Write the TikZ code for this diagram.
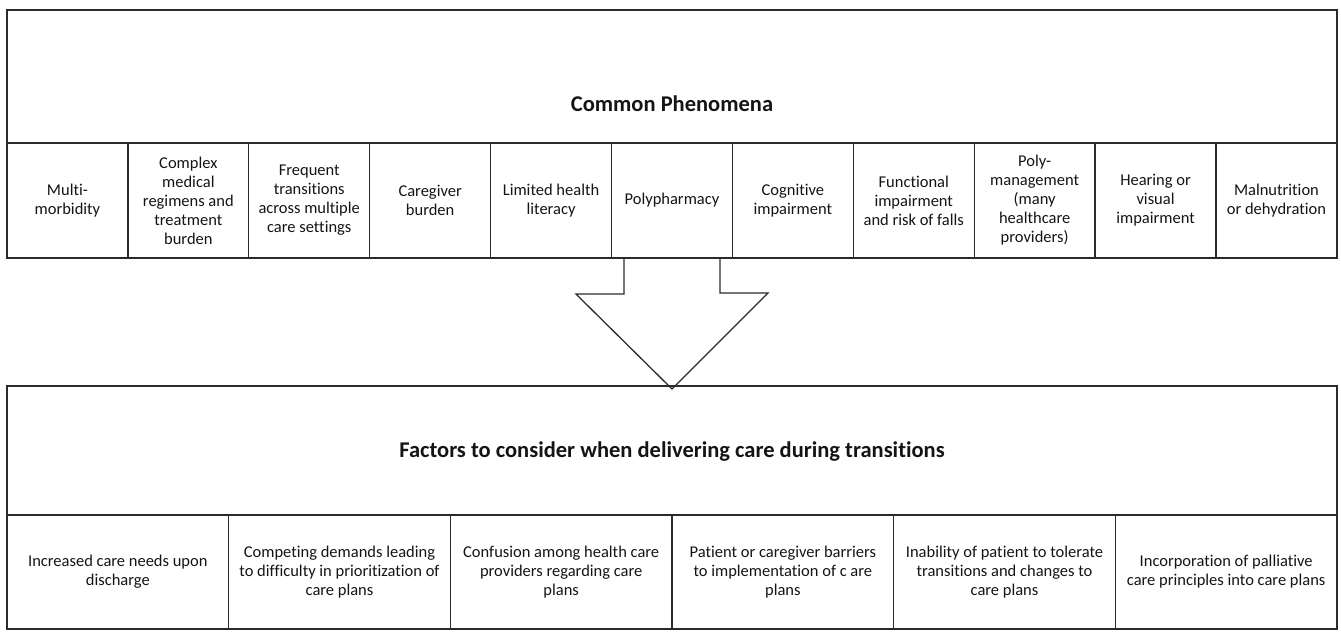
\documentclass[tikz,border=0pt]{standalone}
\usepackage{fontspec}
\setmainfont{Carlito}[Ligatures=NoCommon]
\usepackage{tikz}
\usetikzlibrary{positioning, calc}
\usepackage{xcolor}
\definecolor{linegray}{rgb}{0.17, 0.17, 0.17}
\definecolor{textgray}{rgb}{0.08, 0.08, 0.08}
\newcommand{\cellfont}{\fontsize{16.5}{19}\selectfont}
\newcommand{\headfont}{\fontsize{22.5}{26}\selectfont\bfseries}

\begin{document}
\begin{tikzpicture}[
        x=1pt, y=-1pt,
        cell/.style={rectangle, draw=linegray, line width=1.3pt, outer sep=0pt, minimum width=120.9pt, minimum height=115pt, inner sep=0pt, align=center, text=textgray, font=\cellfont},
        widecell/.style={cell, minimum width=221.67pt, minimum height=114pt},
        titlebox/.style={rectangle, draw=linegray, line width=1.3pt, outer sep=0pt, minimum width=1330pt, inner sep=0pt},
        heading/.style={font=\headfont, text=textgray},
        blockarrow/.style={draw=linegray, line width=1.3pt, line join=miter}
    ]
        \useasboundingbox (0,0) rectangle (1341,632);

        % common phenomena
        \node [cell, anchor=north west] (phen1) at (7,143) {Multi-\\morbidity};
        \node [cell, right=0pt of phen1] (phen2) {Complex\\medical\\regimens and\\treatment\\burden};
        \node [cell, right=0pt of phen2] (phen3) {Frequent\\transitions\\across multiple\\care settings};
        \node [cell, right=0pt of phen3] (phen4) {Caregiver\\burden};
        \node [cell, right=0pt of phen4] (phen5) {Limited health\\literacy};
        \node [cell, right=0pt of phen5] (phen6) {Polypharmacy};
        \node [cell, right=0pt of phen6] (phen7) {Cognitive\\impairment};
        \node [cell, right=0pt of phen7] (phen8) {Functional\\impairment\\and risk of falls};
        \node [cell, right=0pt of phen8] (phen9) {Poly-\\management\\(many\\healthcare\\providers)};
        \node [cell, right=0pt of phen9] (phen10) {Hearing or\\visual\\impairment};
        \node [cell, right=0pt of phen10] (phen11) {Malnutrition\\or dehydration};
        \node [titlebox, minimum height=133pt, anchor=south west] (phenbox) at (phen1.north west) {};
        \node [heading] (phentitle) at ($(phenbox.center)+(0,27)$) {Common Phenomena};

        % factors
        \node [titlebox, minimum height=129pt, anchor=north west] (facbox) at (7,386) {};
        \node [heading] (factitle) at ($(facbox.center)+(0,1)$) {Factors to consider when delivering care during transitions};
        \node [widecell, anchor=north west] (fac1) at (facbox.south west) {Increased care needs upon\\discharge};
        \node [widecell, right=0pt of fac1] (fac2) {Competing demands leading\\to difficulty in prioritization of\\care plans};
        \node [widecell, right=0pt of fac2] (fac3) {Confusion among health care\\providers regarding care\\plans};
        \node [widecell, right=0pt of fac3] (fac4) {Patient or caregiver barriers\\to implementation of c are\\plans};
        \node [widecell, right=0pt of fac4] (fac5) {Inability of patient to tolerate\\transitions and changes to\\care plans};
        \node [widecell, right=0pt of fac5] (fac6) {Incorporation of palliative\\care principles into care plans};

        \coordinate (tip) at ($(facbox.north)+(0,3)$);
        \draw [blockarrow] ($(phen6.south)+(-48,0)$) -- ++(0,36) -- ++(-48,0) -- (tip) -- ++(96,-96) -- ++(-48,0) -- ++(0,-36);
    \end{tikzpicture}
\end{document}
